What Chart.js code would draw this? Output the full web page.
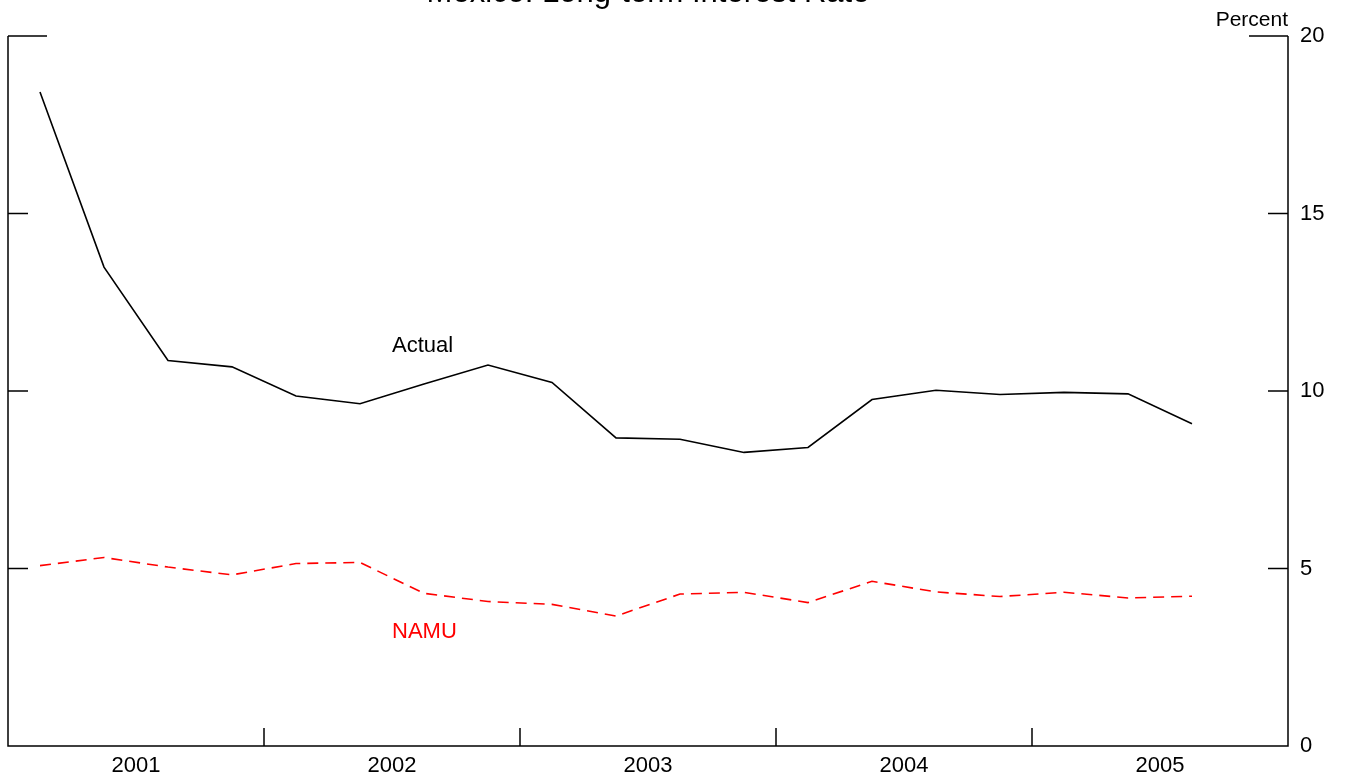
<!DOCTYPE html>
<html>
<head>
<meta charset="utf-8">
<script src="https://cdn.jsdelivr.net/npm/chart.js@4/dist/chart.umd.min.js"></script>
<style>
  html, body { margin: 0; padding: 0; background: #fff; }
  #wrap { width: 1347px; height: 781px; position: relative; }
</style>
</head>
<body>
<div id="wrap"><canvas id="chart"></canvas></div>
<script>
// quarterly data, 2001Q1 .. 2005Q3
const quarters = [
  "2001Q1", "2001Q2", "2001Q3", "2001Q4",
  "2002Q1", "2002Q2", "2002Q3", "2002Q4",
  "2003Q1", "2003Q2", "2003Q3", "2003Q4",
  "2004Q1", "2004Q2", "2004Q3", "2004Q4",
  "2005Q1", "2005Q2", "2005Q3"
];
const actual = [
  18.42, 13.49, 10.86, 10.68, 9.86, 9.64, 10.2, 10.73,
  10.24, 8.68, 8.64, 8.27, 8.41, 9.76, 10.02, 9.9,
  9.96, 9.92, 9.08
];
const namu = [
  5.08, 5.31, 5.04, 4.82, 5.14, 5.17, 4.3, 4.07,
  3.99, 3.66, 4.28, 4.33, 4.04, 4.64, 4.34, 4.21,
  4.33, 4.17, 4.22
];
const years = [2001, 2002, 2003, 2004, 2005];
const yTicks = [0, 5, 10, 15, 20];

const titleText = "Mexico: Long-term Interest Rate";
const unitText = "Percent";
const seriesLabels = [
  { text: "Actual", x: 2002.5, y: 11.27, color: "#000" },
  { text: "NAMU", x: 2002.5, y: 3.21, color: "#ff0000" }
];

const FONT = "'Liberation Sans', Arial, Helvetica, sans-serif";

// "2003Q2" -> 2003.375 (middle of the quarter)
function quarterToX(q) {
  const yr = parseInt(q.slice(0, 4));
  const n = parseInt(q.slice(5));
  return yr + (n - 0.5) / 4;
}

const frame = {
  id: "frame",
  afterDraw(chart) {
    const ctx = chart.ctx;
    const a = chart.chartArea;
    const xs = chart.scales.x;
    const ys = chart.scales.y;
    ctx.save();
    ctx.strokeStyle = "#000";
    ctx.lineWidth = 1.5;

    // left, bottom, right
    ctx.beginPath();
    ctx.moveTo(a.left, a.top);
    ctx.lineTo(a.left, a.bottom);
    ctx.lineTo(a.right, a.bottom);
    ctx.lineTo(a.right, a.top);
    ctx.stroke();

    // inward ticks on both value axes
    yTicks.forEach(v => {
      if (v === 0) return;
      const py = ys.getPixelForValue(v);
      const len = v === 20 ? 39 : 20;
      ctx.beginPath();
      ctx.moveTo(a.left, py);
      ctx.lineTo(a.left + len, py);
      ctx.moveTo(a.right, py);
      ctx.lineTo(a.right - len, py);
      ctx.stroke();
    });

    // year boundaries on the time axis
    years.slice(1).forEach(yr => {
      const px = xs.getPixelForValue(yr);
      ctx.beginPath();
      ctx.moveTo(px, a.bottom);
      ctx.lineTo(px, a.bottom - 18);
      ctx.stroke();
    });

    // title and unit
    ctx.fillStyle = "#000";
    ctx.font = "31px " + FONT;
    ctx.textAlign = "center";
    ctx.textBaseline = "alphabetic";
    ctx.fillText(titleText, (a.left + a.right) / 2, 2);

    ctx.font = "21px " + FONT;
    ctx.textAlign = "right";
    ctx.fillText(unitText, a.right, 26);

    // series labels
    ctx.font = "22px " + FONT;
    ctx.textAlign = "left";
    ctx.textBaseline = "middle";
    seriesLabels.forEach(l => {
      ctx.fillStyle = l.color;
      ctx.fillText(l.text, xs.getPixelForValue(l.x), ys.getPixelForValue(l.y));
    });
    ctx.restore();
  }
};

new Chart(document.getElementById("chart"), {
  type: "line",
  data: {
    datasets: [
      {
        label: "Actual",
        data: quarters.map((q, i) => ({ x: quarterToX(q), y: actual[i] })),
        borderColor: "#000",
        borderWidth: 1.6,
        pointRadius: 0,
        tension: 0
      },
      {
        label: "NAMU",
        data: quarters.map((q, i) => ({ x: quarterToX(q), y: namu[i] })),
        borderColor: "#ff0000",
        borderWidth: 1.6,
        borderDash: [11, 7],
        pointRadius: 0,
        tension: 0
      }
    ]
  },
  options: {
    responsive: true,
    maintainAspectRatio: false,
    animation: false,
    layout: { padding: { left: 8, top: 36, right: 0, bottom: 0 } },
    plugins: {
      legend: { display: false },
      tooltip: { enabled: false },
      title: { display: false }
    },
    scales: {
      x: {
        type: "linear",
        min: years[0],
        max: years[years.length - 1] + 1,
        border: { display: false },
        grid: { display: false, drawTicks: false },
        afterBuildTicks: (scale) => {
          scale.ticks = years.map(y => ({ value: y + 0.5 }));
        },
        afterFit: (scale) => { scale.height = 35; },
        ticks: {
          color: "#000",
          font: { family: FONT, size: 22 },
          padding: 7,
          maxRotation: 0,
          autoSkip: false,
          callback: (v) => String(Math.floor(v))
        }
      },
      y: {
        position: "right",
        min: 0,
        max: 20,
        border: { display: false },
        grid: { display: false, drawTicks: false },
        afterBuildTicks: (scale) => {
          scale.ticks = yTicks.map(v => ({ value: v }));
        },
        afterFit: (scale) => { scale.width = 59; },
        ticks: {
          color: "#000",
          font: { family: FONT, size: 22 },
          padding: 12
        }
      }
    }
  },
  plugins: [frame]
});
</script>
</body>
</html>
